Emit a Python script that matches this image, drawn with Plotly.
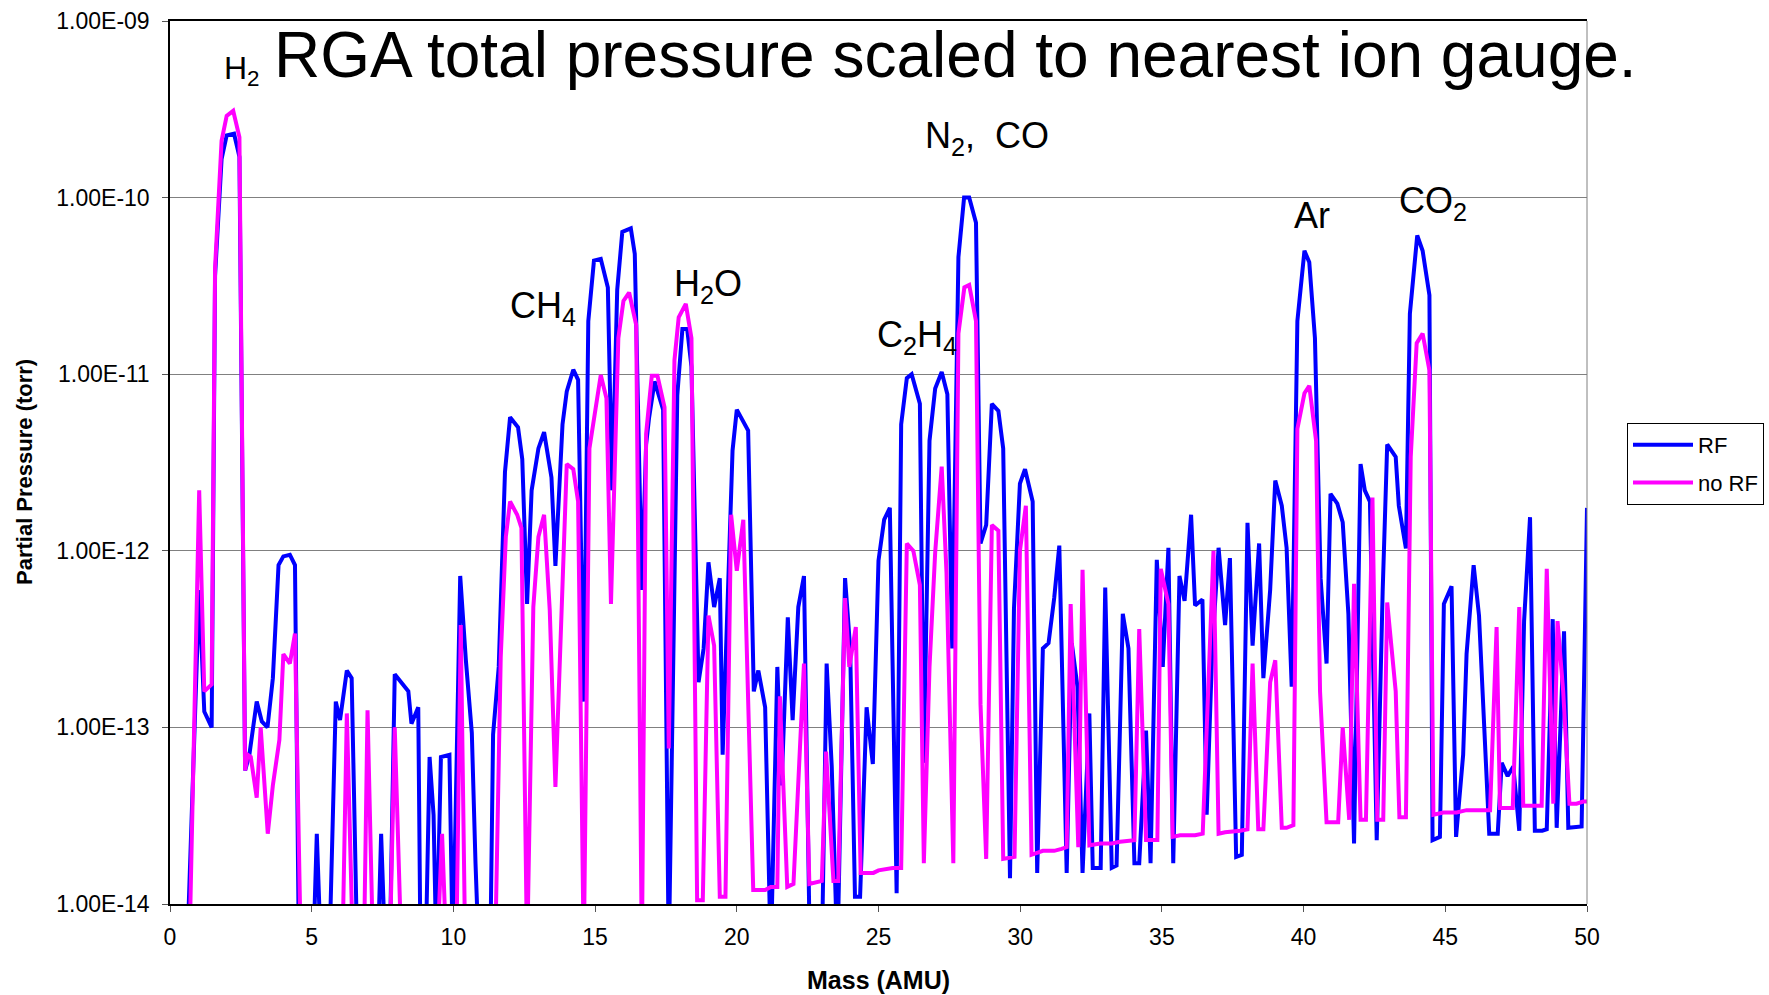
import plotly.graph_objects as go

# ---- data (mass in AMU, partial pressure in torr) ----
# values below 1e-14 sit under the bottom of the axis
rf_mass = [0.60, 1.03, 1.21, 1.47, 1.59, 1.82, 2.00, 2.26, 2.45, 2.65, 2.80, 3.06, 3.24, 3.44, 3.63, 3.83, 4.00, 4.23, 4.41, 4.55,
           5.05, 5.18, 5.33, 5.62, 5.85, 6.00, 6.24, 6.41, 6.61, 7.33, 7.45, 7.60, 7.75, 7.93, 8.41, 8.52, 8.76, 8.84, 9.02, 9.16,
           9.30, 9.40, 9.56, 9.86, 9.98, 10.24, 10.44, 10.65, 10.78, 10.90, 11.30, 11.40, 11.60, 11.82, 12.00, 12.28, 12.43, 12.60, 12.76, 13.00,
           13.20, 13.46, 13.60, 13.85, 14.00, 14.23, 14.40, 14.60, 14.76, 14.96, 15.20, 15.45, 15.60, 15.78, 15.96, 16.26, 16.40, 16.65, 16.80, 16.90,
           17.10, 17.40, 17.60, 17.90, 18.08, 18.25, 18.40, 18.65, 18.83, 19.00, 19.20, 19.40, 19.50, 19.85, 20.00, 20.20, 20.40, 20.60, 20.76, 21.00,
           21.20, 21.43, 21.58, 21.80, 21.97, 22.17, 22.37, 22.58, 23.00, 23.17, 23.35, 23.55, 23.82, 24.00, 24.17, 24.35, 24.58, 24.80, 25.00, 25.20,
           25.40, 25.64, 25.80, 26.00, 26.17, 26.46, 26.60, 26.80, 27.00, 27.23, 27.43, 27.60, 27.82, 28.02, 28.20, 28.44, 28.60, 28.80, 29.00, 29.23,
           29.40, 29.64, 29.78, 29.99, 30.17, 30.44, 30.60, 30.80, 31.00, 31.20, 31.38, 31.64, 31.82, 32.02, 32.20, 32.44, 32.56, 32.84, 33.00, 33.23,
           33.40, 33.62, 33.82, 34.03, 34.20, 34.44, 34.60, 34.82, 35.03, 35.23, 35.40, 35.62, 35.80, 36.03, 36.17, 36.43, 36.58, 36.78, 37.00, 37.23,
           37.40, 37.62, 37.82, 38.02, 38.20, 38.43, 38.58, 38.82, 39.00, 39.23, 39.40, 39.58, 39.78, 40.03, 40.20, 40.40, 40.60, 40.81, 40.95, 41.19,
           41.38, 41.58, 41.78, 42.01, 42.16, 42.34, 42.58, 42.79, 42.95, 43.25, 43.36, 43.61, 43.75, 44.01, 44.20, 44.44, 44.55, 44.81, 44.95, 45.22,
           45.38, 45.63, 45.75, 46.00, 46.19, 46.55, 46.85, 46.99, 47.20, 47.40, 47.61, 47.78, 47.99, 48.16, 48.42, 48.58, 48.79, 48.93, 49.19, 49.34,
           49.70, 49.81, 50.00]
rf_pressure = [5e-15, 6e-13, 1.23e-13, 1.0e-13, 3.6e-11, 1.65e-10, 2.25e-10, 2.3e-10, 1.7e-10, 5.7e-14, 7.0e-14, 1.4e-13, 1.08e-13, 1.0e-13, 1.9e-13, 8.3e-13, 9.3e-13, 9.5e-13, 8.3e-13, 5e-15,
               5e-15, 2.5e-14, 5e-15, 5e-15, 1.4e-13, 1.1e-13, 2.1e-13, 1.9e-13, 5e-15, 5e-15, 2.5e-14, 5e-15, 5e-15, 2.0e-13, 1.6e-13, 1.05e-13, 1.3e-13, 5e-15, 5e-15, 6.8e-14,
               3.2e-14, 5e-15, 6.8e-14, 7.0e-14, 5e-15, 7.2e-13, 2.4e-13, 9.3e-14, 1.7e-14, 5e-15, 5e-15, 9.1e-14, 2.2e-13, 2.8e-12, 5.7e-12, 5.0e-12, 3.3e-12, 5e-13, 2.2e-12, 3.8e-12,
               4.7e-12, 2.6e-12, 8.2e-13, 5.2e-12, 8.0e-12, 1.06e-11, 9.3e-12, 1.4e-13, 2.0e-11, 4.4e-11, 4.5e-11, 3.1e-11, 2.2e-12, 3.0e-11, 6.4e-11, 6.7e-11, 4.8e-11, 6.0e-13, 4.0e-12, 5.6e-12,
               9.1e-12, 6.3e-12, 5e-15, 7.6e-12, 1.8e-11, 1.8e-11, 1.1e-11, 1.8e-13, 2.8e-13, 8.6e-13, 4.8e-13, 7.0e-13, 7.0e-14, 3.7e-12, 6.3e-12, 5.5e-12, 4.8e-12, 1.6e-13, 2.1e-13, 1.3e-13,
               5e-15, 2.2e-13, 4.7e-14, 4.2e-13, 1.1e-13, 4.8e-13, 7.2e-13, 5e-15, 5e-15, 2.3e-13, 6.0e-14, 5e-15, 7.0e-13, 2.8e-13, 1.1e-14, 1.1e-14, 1.3e-13, 6.2e-14, 8.8e-13, 1.5e-12,
               1.75e-12, 1.15e-14, 5.2e-12, 9.5e-12, 1.0e-11, 6.8e-12, 6.3e-14, 4.2e-12, 8.3e-12, 1.03e-11, 7.7e-12, 2.8e-13, 4.6e-11, 1.0e-10, 1.0e-10, 7.2e-11, 1.1e-12, 1.4e-12, 6.8e-12, 6.2e-12,
               3.8e-12, 1.4e-14, 4.7e-13, 2.4e-12, 2.9e-12, 1.9e-12, 1.5e-14, 2.8e-13, 3.0e-13, 5.4e-13, 1.07e-12, 1.5e-14, 3.0e-13, 1.7e-13, 1.5e-14, 1.2e-13, 1.6e-14, 1.6e-14, 6.2e-13, 1.6e-14,
               1.65e-14, 4.4e-13, 2.8e-13, 1.7e-14, 1.7e-14, 9.6e-14, 1.7e-14, 8.9e-13, 2.2e-13, 1.04e-12, 1.7e-14, 7.2e-13, 5.2e-13, 1.6e-12, 4.9e-13, 5.3e-13, 3.2e-14, 2.9e-13, 1.04e-12, 3.8e-13,
               9.1e-13, 1.85e-14, 1.9e-14, 1.44e-12, 2.9e-13, 1.1e-12, 1.9e-13, 6.0e-13, 2.5e-12, 1.8e-12, 1.04e-12, 1.7e-13, 2.0e-11, 5.0e-11, 4.3e-11, 1.6e-11, 7.0e-13, 2.3e-13, 2.1e-12, 1.85e-12,
               1.45e-12, 4.4e-13, 2.2e-14, 3.1e-12, 2.2e-12, 1.9e-12, 2.3e-14, 5.9e-13, 4.0e-12, 3.4e-12, 1.8e-12, 1.03e-12, 2.2e-11, 6.1e-11, 5.0e-11, 2.8e-11, 2.3e-14, 2.4e-14, 5.0e-13, 6.3e-13,
               2.4e-14, 7.0e-14, 2.6e-13, 8.3e-13, 4.3e-13, 2.5e-14, 2.5e-14, 6.3e-14, 5.3e-14, 6.0e-14, 2.6e-14, 4.0e-13, 1.55e-12, 2.6e-14, 2.6e-14, 2.65e-14, 4.1e-13, 2.7e-14, 3.5e-13, 2.7e-14,
               2.75e-14, 2.75e-14, 1.75e-12]

norf_mass = [0.68, 1.03, 1.21, 1.47, 1.59, 1.82, 2.00, 2.23, 2.45, 2.65, 2.74, 2.85, 3.06, 3.20, 3.45, 3.63, 3.86, 4.00, 4.23, 4.41,
             4.62, 6.08, 6.24, 6.46, 6.84, 6.97, 7.17, 7.75, 7.93, 8.17, 9.42, 9.60, 9.76, 10.10, 10.26, 10.42, 11.47, 11.67, 11.85, 12.00,
             12.25, 12.40, 12.60, 12.82, 13.00, 13.20, 13.40, 13.60, 14.00, 14.23, 14.40, 14.60, 14.80, 14.96, 15.20, 15.40, 15.56, 15.82, 16.00, 16.20,
             16.45, 16.65, 16.80, 17.00, 17.20, 17.45, 17.60, 17.80, 17.95, 18.20, 18.40, 18.60, 18.80, 19.00, 19.20, 19.40, 19.60, 19.80, 20.00, 20.23,
             20.58, 21.00, 21.20, 21.43, 21.52, 21.78, 22.00, 22.37, 22.56, 23.00, 23.15, 23.41, 23.58, 23.82, 23.97, 24.20, 24.37, 24.82, 25.00, 25.50,
             25.80, 26.00, 26.23, 26.46, 26.60, 26.80, 27.00, 27.23, 27.40, 27.64, 27.82, 28.03, 28.20, 28.44, 28.60, 28.80, 29.00, 29.23, 29.40, 29.80,
             29.99, 30.20, 30.40, 30.80, 31.20, 31.46, 31.64, 31.78, 32.05, 32.20, 32.44, 32.82, 33.23, 33.52, 34.03, 34.20, 34.44, 34.84, 34.96, 35.23,
             35.38, 35.64, 36.17, 36.44, 36.82, 37.00, 37.23, 37.76, 38.02, 38.20, 38.40, 38.58, 38.82, 39.00, 39.23, 39.40, 39.64, 39.78, 40.03, 40.20,
             40.44, 40.58, 40.81, 41.22, 41.38, 41.61, 41.78, 42.01, 42.20, 42.43, 42.60, 42.81, 42.95, 43.25, 43.38, 43.61, 43.78, 43.99, 44.20, 44.44,
             44.58, 44.93, 45.40, 45.75, 46.58, 46.81, 46.93, 47.38, 47.61, 47.75, 48.40, 48.58, 48.81, 48.96, 49.16, 49.38, 49.63, 49.87, 50.00]
norf_pressure = [5e-15, 2.2e-12, 1.6e-13, 1.75e-13, 4.0e-11, 2.1e-10, 2.9e-10, 3.1e-10, 2.2e-10, 5.7e-14, 7.0e-14, 6.8e-14, 4.0e-14, 1.0e-13, 2.5e-14, 4.7e-14, 8.5e-14, 2.6e-13, 2.3e-13, 3.4e-13,
                 5e-15, 5e-15, 1.2e-13, 5e-15, 5e-15, 1.25e-13, 5e-15, 5e-15, 1.0e-13, 5e-15, 5e-15, 2.5e-14, 5e-15, 5e-15, 3.8e-13, 5e-15, 5e-15, 2.5e-13, 1.2e-12, 1.9e-12,
                 1.6e-12, 1.35e-12, 5e-15, 4.8e-13, 1.2e-12, 1.6e-12, 4.6e-13, 4.6e-14, 3.1e-12, 2.9e-12, 1.9e-12, 5e-15, 3.8e-12, 5.7e-12, 9.9e-12, 7.3e-12, 5.0e-13, 1.6e-11, 2.6e-11, 2.9e-11,
                 1.9e-11, 5e-15, 4.6e-12, 9.8e-12, 9.8e-12, 6.5e-12, 7.6e-14, 1.2e-11, 2.1e-11, 2.5e-11, 1.6e-11, 1.05e-14, 1.05e-14, 4.3e-13, 2.9e-13, 1.1e-14, 1.1e-14, 1.6e-12, 7.7e-13, 1.5e-12,
                 1.2e-14, 1.2e-14, 1.25e-14, 1.25e-14, 1.5e-13, 1.25e-14, 1.3e-14, 2.3e-13, 1.3e-14, 1.35e-14, 7.3e-14, 1.35e-14, 1.35e-14, 5.4e-13, 2.2e-13, 3.7e-13, 1.5e-14, 1.5e-14, 1.55e-14, 1.6e-14,
                 1.6e-14, 1.1e-12, 1.0e-12, 6.4e-13, 1.7e-14, 2.2e-13, 9.8e-13, 3.0e-12, 7.5e-13, 1.7e-14, 1.7e-11, 3.1e-11, 3.2e-11, 2.0e-11, 1.35e-13, 1.8e-14, 1.4e-12, 1.3e-12, 1.8e-14, 1.85e-14,
                 1.0e-12, 1.8e-12, 1.9e-14, 2.0e-14, 2.0e-14, 2.05e-14, 2.1e-14, 5.0e-13, 2.1e-14, 7.8e-13, 2.15e-14, 2.2e-14, 2.2e-14, 2.25e-14, 2.3e-14, 3.6e-13, 2.3e-14, 2.3e-14, 7.9e-13, 5.0e-13,
                 2.4e-14, 2.45e-14, 2.45e-14, 2.5e-14, 1.0e-12, 2.5e-14, 2.55e-14, 2.6e-14, 2.65e-14, 2.3e-13, 2.65e-14, 2.65e-14, 1.8e-13, 2.4e-13, 2.7e-14, 2.7e-14, 2.8e-14, 4.9e-12, 7.8e-12, 8.6e-12,
                 4.2e-12, 1.6e-13, 2.9e-14, 2.9e-14, 1.0e-13, 3.0e-14, 6.5e-13, 3.0e-14, 3.0e-14, 2.0e-12, 3.0e-14, 3.0e-14, 5.1e-13, 1.6e-13, 3.1e-14, 3.1e-14, 3.4e-12, 1.5e-11, 1.7e-11, 1.05e-11,
                 3.2e-14, 3.3e-14, 3.3e-14, 3.4e-14, 3.4e-14, 3.7e-13, 3.5e-14, 3.5e-14, 4.8e-13, 3.6e-14, 3.6e-14, 7.9e-13, 3.7e-14, 4.0e-13, 1.6e-13, 3.7e-14, 3.7e-14, 3.8e-14, 3.8e-14]

y_tick_values = [1e-14, 1e-13, 1e-12, 1e-11, 1e-10, 1e-9]
y_tick_labels = ["1.00E-14", "1.00E-13", "1.00E-12", "1.00E-11", "1.00E-10", "1.00E-09"]
x_tick_values = [0, 5, 10, 15, 20, 25, 30, 35, 40, 45, 50]

# peak labels: text, mass position, log10 pressure position
peak_labels = ["CH<sub>4</sub>", "H<sub>2</sub>O", "C<sub>2</sub>H<sub>4</sub>", "N<sub>2</sub>,&nbsp;&nbsp;CO", "Ar", "CO<sub>2</sub>"]
peak_label_mass = [11.91, 17.73, 24.86, 26.56, 39.58, 43.28]
peak_label_logp = [-10.625, -10.50, -10.79, -9.665, -10.10, -10.03]

FONT = "Liberation Sans, Arial, sans-serif"

fig = go.Figure()
fig.add_trace(go.Scatter(x=rf_mass, y=rf_pressure, mode="lines", name="RF", legendgroup="a",
                         line=dict(color="#0000FF", width=4)))
fig.add_trace(go.Scatter(x=norf_mass, y=norf_pressure, mode="lines", name="no RF", legendgroup="b",
                         line=dict(color="#FF00FF", width=4)))

annotations = []
for t, mx, ly in zip(peak_labels, peak_label_mass, peak_label_logp):
    annotations.append(dict(x=mx, y=ly, xref="x", yref="y", text=t, showarrow=False,
                            xanchor="left", yanchor="middle",
                            font=dict(family=FONT, size=36, color="black")))

# title with small H2 label in front
annotations.append(dict(x=(222 - 170) / 1417, y=(904 - 70) / 883, xref="paper", yref="paper",
                        text="H<sub>2</sub>", showarrow=False, xanchor="left", yanchor="middle",
                        font=dict(family=FONT, size=32, color="black")))
annotations.append(dict(x=(272 - 170) / 1417, y=(904 - 55) / 883, xref="paper", yref="paper",
                        text="RGA total pressure scaled to nearest ion gauge.", showarrow=False,
                        xanchor="left", yanchor="middle",
                        font=dict(family=FONT, size=64, color="black")))
# axis titles
annotations.append(dict(x=0.5, y=(904 - 980) / 883, xref="paper", yref="paper",
                        text="<b>Mass (AMU)</b>", showarrow=False, xanchor="center", yanchor="middle",
                        font=dict(family=FONT, size=25, color="black")))
annotations.append(dict(x=(24 - 170) / 1417, y=(904 - 472) / 883, xref="paper", yref="paper",
                        text="<b>Partial Pressure (torr)</b>", showarrow=False, textangle=-90,
                        xanchor="center", yanchor="middle",
                        font=dict(family=FONT, size=22, color="black")))

fig.update_layout(
    width=1769, height=995,
    margin=dict(l=170, r=182, t=21, b=91, autoexpand=False),
    paper_bgcolor="white", plot_bgcolor="white",
    font=dict(family=FONT, size=22, color="black"),
    showlegend=True,
    legend=dict(x=(1627 - 170) / 1417, y=(904 - 423) / 883, xanchor="left", yanchor="top",
                bgcolor="white", bordercolor="black", borderwidth=1,
                font=dict(family=FONT, size=22, color="black"), itemwidth=60,
                traceorder="grouped", tracegroupgap=6),
    annotations=annotations,
    shapes=[dict(type="line", xref="paper", yref="paper", x0=1, x1=1, y0=0, y1=1,
                 line=dict(color="#808080", width=1))],
)
fig.update_xaxes(range=[0, 50], tickvals=x_tick_values, ticks="outside", ticklen=6,
                 tickcolor="#555555", showgrid=False, zeroline=False,
                 showline=True, linecolor="black", linewidth=1.5, mirror=True,
                 ticklabelstandoff=6,
                 tickfont=dict(family=FONT, size=23, color="black"))
fig.update_yaxes(type="log", range=[-14, -9], tickvals=y_tick_values, ticktext=y_tick_labels,
                 ticks="outside", ticklen=6, tickcolor="#555555",
                 showgrid=True, gridcolor="#808080", gridwidth=1,
                 showline=True, linecolor="black", linewidth=1.5, zeroline=False,
                 ticklabelstandoff=8,
                 tickfont=dict(family=FONT, size=23, color="black"))

fig.write_html("out.html")
